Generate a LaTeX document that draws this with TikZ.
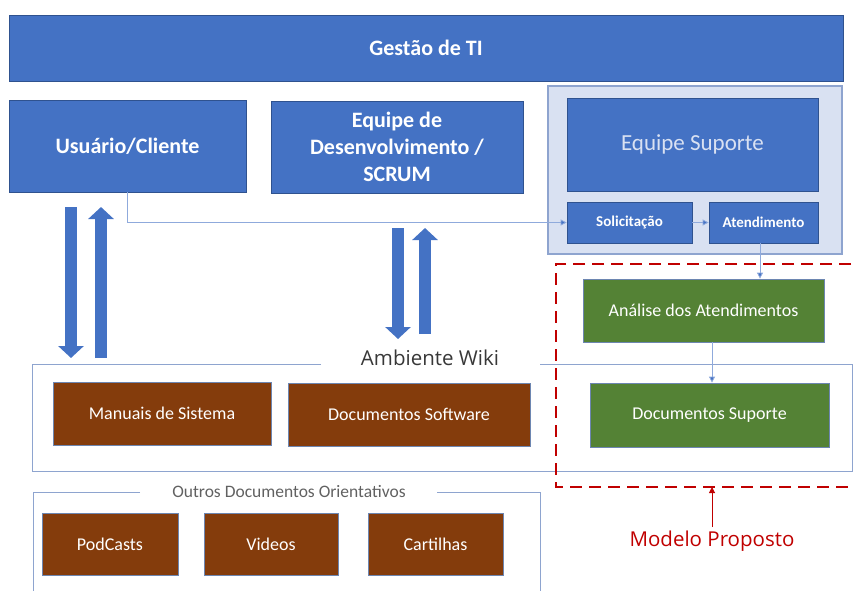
\documentclass[tikz,border=0pt]{standalone}
\usepackage{fontspec}
\setmainfont{Carlito}
\newfontfamily\uifont{Open Sans}
\usetikzlibrary{arrows.meta}

\definecolor{mblue}{HTML}{4472C4}
\definecolor{dblue}{HTML}{2F528F}
\definecolor{paleblue}{HTML}{D9E1F2}
\definecolor{lineblue}{HTML}{8FAADC}
\definecolor{framblue}{HTML}{8EA4CF}
\definecolor{mbrown}{HTML}{843C0C}
\definecolor{mgreen}{HTML}{548235}
\definecolor{mred}{HTML}{C00000}

\tikzset{
  basebox/.style={draw, line width=0.8pt, inner sep=2pt, align=center, text=white},
  bluebox/.style={basebox, fill=mblue, draw=dblue, font=\fontsize{22}{27}\selectfont\bfseries},
  smallblue/.style={basebox, fill=mblue, draw=dblue, font=\fontsize{15}{17}\selectfont\bfseries},
  brownbox/.style={basebox, fill=mbrown, draw=dblue!70, font=\fontsize{18}{21}\selectfont},
  greenbox/.style={basebox, fill=mgreen, draw=dblue!70, font=\fontsize{18}{21}\selectfont},
  frame/.style={draw=framblue, line width=1pt},
  link/.style={draw=lineblue, line width=0.8pt, -{Triangle[width=6pt,length=6pt,fill=mblue]}},
  bigarrow/.style={draw=mblue, line width=12pt, -{Triangle[width=25pt,length=12pt]}},
}

\begin{document}
\begin{tikzpicture}[x=1pt, y=-1pt]
\useasboundingbox (0,0) rectangle (853,590);
\clip (0,0) rectangle (853,590);

% top bar
\node[bluebox, minimum width=834pt, minimum height=66pt] (gti) at (426,48) {Gestão de TI};

% first row
\node[bluebox, minimum width=237pt, minimum height=92pt] (usr) at (127.5,146) {Usuário/Cliente};
\node[bluebox, minimum width=252pt, minimum height=92pt] (dev) at (397,147) {Equipe de\\Desenvolvimento /\\SCRUM};

% support team group
\node[draw=framblue, fill=paleblue, line width=1.2pt, minimum width=294pt, minimum height=168pt] (sgrp) at (695,170) {};
\node[basebox, fill=mblue, draw=dblue, text=paleblue, font=\fontsize{23}{27}\selectfont, minimum width=251pt, minimum height=93pt] (esup) at (692.5,144.5) {Equipe Suporte};
\node[smallblue, minimum width=125pt, minimum height=41pt] (sol) at (629.5,222.5) {Solicitação};
\node[smallblue, minimum width=109pt, minimum height=41pt] (ate) at (763.5,222.5) {Atendimento};

% proposed model
\node[greenbox, minimum width=241pt, minimum height=63pt] (ana) at (703.5,310.5) {Análise dos Atendimentos};

% wiki environment
\draw[frame] (321,364) -- (32,364) -- (32,471) -- (852,471) -- (852,364) -- (540,364);
\node[font=\uifont\fontsize{20.5}{24}\selectfont, text=black!78] (wiki) at (430,358) {Ambiente Wiki};
\node[brownbox, minimum width=218pt, minimum height=63pt] (man) at (162,413.5) {Manuais de Sistema};
\node[brownbox, minimum width=242pt, minimum height=63pt] (dsw) at (409,414.5) {Documentos Software};
\node[greenbox, minimum width=239pt, minimum height=64pt] (dsp) at (709.5,415) {Documentos Suporte};

% other guidance documents
\draw[frame] (140,492) -- (33,492) -- (33,600);
\draw[frame] (437,492) -- (540,492) -- (540,600);
\node[font=\fontsize{17.5}{20}\selectfont, text=black!62] (outros) at (289,492) {Outros Documentos Orientativos};
\node[brownbox, minimum width=136pt, minimum height=62pt] (pod) at (110,544) {PodCasts};
\node[brownbox, minimum width=134pt, minimum height=62pt] (vid) at (271,544) {Videos};
\node[brownbox, minimum width=135pt, minimum height=62pt] (car) at (435.5,544) {Cartilhas};

% dashed outline of the proposed model
\draw[mred, line width=1.6pt, dash pattern=on 12pt off 7pt] (870,264) -- (556,264) -- (556,487) -- (870,487);
\coordinate (mpb) at (712,487);
\node[font=\uifont\fontsize{20.5}{24}\selectfont, text=mred] (mp) at (712,541) {Modelo Proposto};
\draw[mred, line width=1pt, -{Triangle[width=6pt,length=6pt]}] (mp.north) -- (mpb);

% thin flow connectors
\draw[link] (usr.south) |- (sol.west);
\draw[link] (sol.east) -- (ate.west);
\draw[link] (ate.south) ++(-3.5,0) coordinate (a1) -- (a1 |- ana.north);
\draw[link] (ana.south) ++(8.5,0) coordinate (a2) -- (a2 |- dsp.north);

% two-way exchange with the wiki
\coordinate (u1) at (71,207);   \coordinate (w1) at (71,358);
\coordinate (u2) at (101,207);  \coordinate (w2) at (101,358);
\coordinate (d1) at (398,228);  \coordinate (w3) at (398,339);
\coordinate (d2) at (425,228);  \coordinate (w4) at (425,334);
\draw[bigarrow] (u1) -- (w1);
\draw[bigarrow] (w2) -- (u2);
\draw[bigarrow] (d1) -- (w3);
\draw[bigarrow] (w4) -- (d2);
\end{tikzpicture}
\end{document}
